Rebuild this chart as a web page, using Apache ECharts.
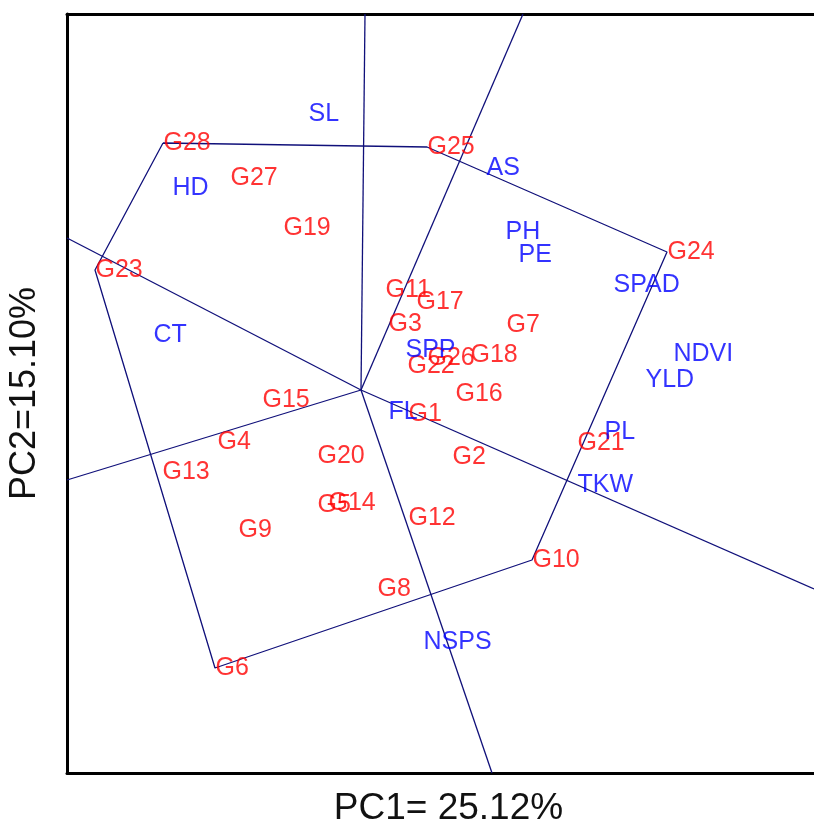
<!DOCTYPE html>
<html>
<head>
<meta charset="utf-8">
<script src="https://cdn.jsdelivr.net/npm/echarts@6/dist/echarts.min.js"></script>
<style>
html,body{margin:0;padding:0;background:#fff;}
#chart{width:814px;height:825px;}
</style>
</head>
<body>
<div id="chart"></div>
<script>
// Genotype scores (PC1, PC2)
const genotypeNames = ['G1','G2','G3','G4','G5','G6','G7','G8','G9','G10','G11','G12','G13','G14','G15','G16','G17','G18','G19','G20','G21','G22','G23','G24','G25','G26','G27','G28'];
const genotypePC1 = [0.47,0.91,0.27,-1.44,-0.44,-1.46,1.45,0.16,-1.23,1.71,0.24,0.47,-1.99,-0.33,-0.99,0.94,0.55,1.09,-0.78,-0.44,2.16,0.46,-2.66,3.06,0.66,0.66,-1.31,-1.98];
const genotypePC2 = [-0.24,-0.67,0.66,-0.52,-1.15,-2.78,0.65,-1.99,-1.40,-1.70,1.00,-1.28,-0.82,-1.13,-0.10,-0.04,0.88,0.35,1.62,-0.66,-0.53,0.24,1.20,1.38,2.43,0.32,2.12,2.47];

// Trait scores (PC1, PC2)
const traitNames = ['SL','HD','AS','PH','PE','SPAD','CT','NDVI','YLD','PL','TKW','NSPS','SPP','FL'];
const traitPC1 = [-0.53,-1.89,1.25,1.44,1.57,2.52,-2.08,3.12,2.84,2.43,2.16,0.62,0.44,0.27];
const traitPC2 = [2.76,2.02,2.22,1.58,1.35,1.05,0.55,0.36,0.10,-0.42,-0.95,-2.52,0.40,-0.22];

// Polygon (vertex genotypes, closed)
const polygonOrder = ['G28','G25','G24','G10','G6','G23','G28'];

// Rays from the origin, perpendicular to polygon sides (end points at plot border)
const rayEndPC1 = [0.04, 1.62, 4.53, 1.31, -2.94, -2.94];
const rayEndPC2 = [3.76, 3.76, -1.99, -3.83, -0.90, 1.52];

// Axis titles
const xTitle = 'PC1= 25.12%';
const yTitle = 'PC2=15.10%';

const lineColor = '#10107a';
const font = 'Liberation Sans, Arial, sans-serif';

const gData = genotypeNames.map((n,i)=>({name:n, value:[genotypePC1[i], genotypePC2[i]]}));
const tData = traitNames.map((n,i)=>({name:n, value:[traitPC1[i], traitPC2[i]]}));
const polyData = polygonOrder.map(n=>{const i=genotypeNames.indexOf(n); return [genotypePC1[i], genotypePC2[i]];});

const raySeries = rayEndPC1.map((x,i)=>({
  type:'line', data:[[0,0],[x, rayEndPC2[i]]], symbol:'none', silent:true,
  lineStyle:{color:lineColor, width:1.3}, z:2, animation:false
}));

const labelSeries = (data, color) => ({
  type:'scatter', data:data, symbolSize:1, itemStyle:{color:'rgba(0,0,0,0)'}, z:5, animation:false,
  label:{show:true, position:'right', distance:0, formatter:p=>p.name,
    color:color, fontFamily:font, fontSize:25}
});

const frameLine = {show:true, onZero:false, lineStyle:{color:'#000', width:3}};
const hidden = {axisTick:{show:false}, axisLabel:{show:false}, splitLine:{show:false}};

const chart = echarts.init(document.getElementById('chart'), null, {renderer:'canvas'});
chart.setOption({
  backgroundColor:'#ffffff',
  animation:false,
  grid:{left:67, right:0, top:14, bottom:52, outerBoundsMode:'none', containLabel:false},
  xAxis:[
    Object.assign({type:'value', min:-2.94, max:4.53, position:'bottom', name:xTitle, nameLocation:'middle', nameGap:17,
      nameTextStyle:{fontFamily:font, fontSize:37, color:'#111', padding:[0,0,0,16]},
      axisLine:frameLine}, hidden),
    Object.assign({type:'value', min:-2.94, max:4.53, position:'top', axisLine:frameLine}, hidden)
  ],
  yAxis:Object.assign({type:'value', min:-3.83, max:3.76, name:yTitle, nameLocation:'middle', nameGap:24,
    nameTextStyle:{fontFamily:font, fontSize:36, color:'#111'},
    axisLine:frameLine}, hidden),
  series:[
    ...raySeries,
    {type:'line', data:polyData, symbol:'none', silent:true, lineStyle:{color:lineColor, width:1.3}, z:2, animation:false},
    labelSeries(gData, '#ff0000'),
    labelSeries(tData, '#0000ff')
  ]
});
</script>
</body>
</html>
